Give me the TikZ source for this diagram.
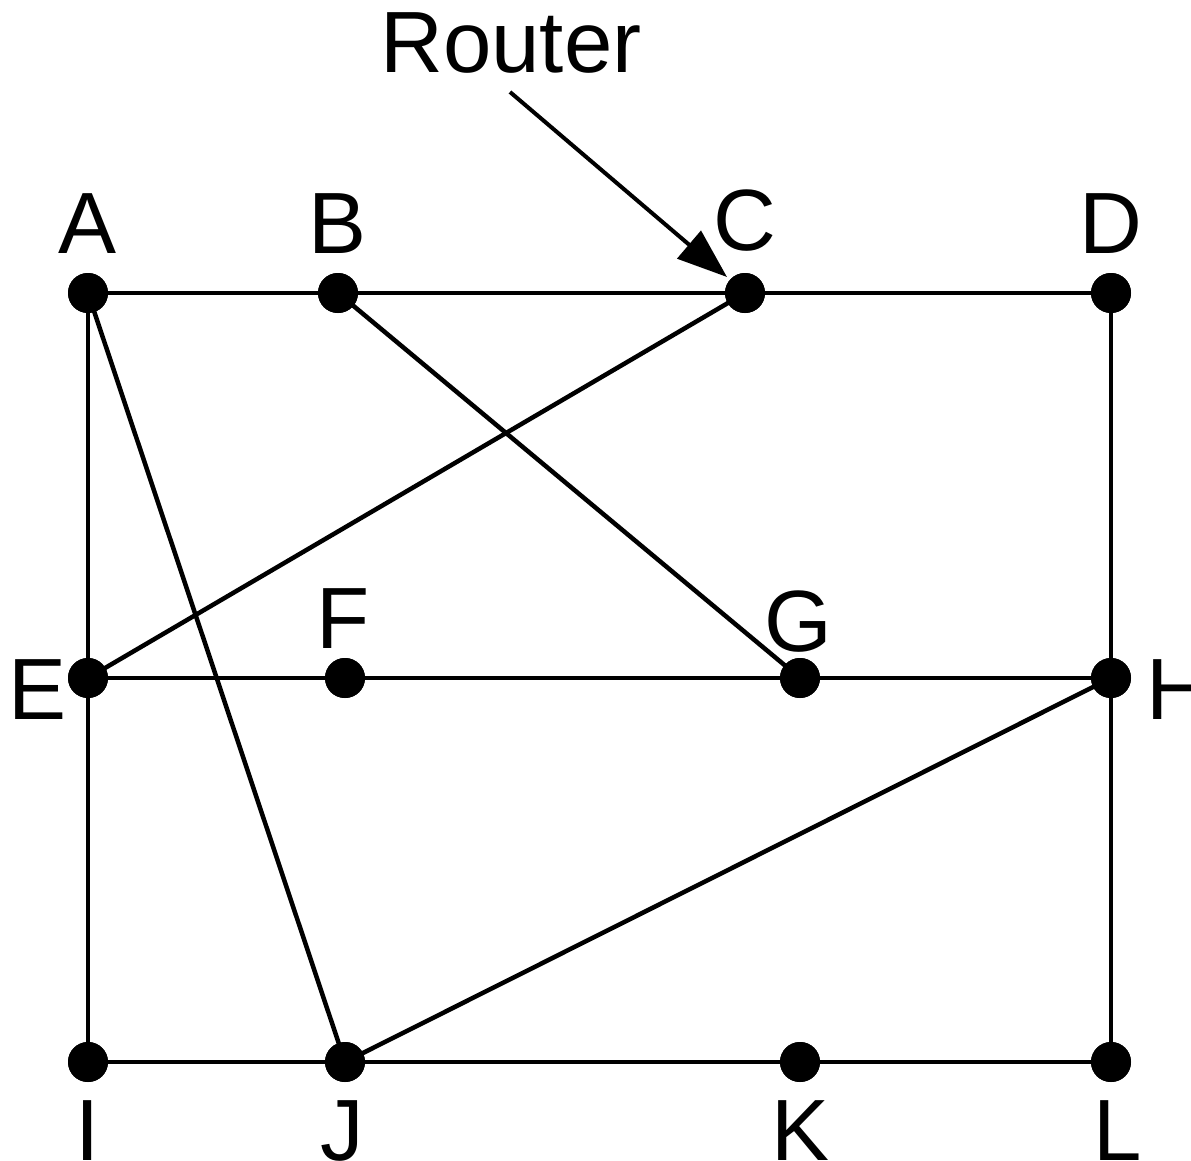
\documentclass[tikz,border=0pt]{standalone}
\usepackage{fontspec}
\setmainfont{Liberation Sans}
\usetikzlibrary{arrows.meta}
\begin{document}
\begin{tikzpicture}[x=1pt,y=-1pt,
  router/.style={circle,fill=black,inner sep=0pt,minimum size=40pt},
  lbl/.style={font=\fontsize{87}{87}\selectfont,inner sep=0pt,anchor=base},
  link/.style={line width=4.5pt}]
\useasboundingbox (0,0) rectangle (1191,1160);
\node[router] (A) at (88,293) {};
\node[router] (B) at (338,293) {};
\node[router] (C) at (745,293) {};
\node[router] (D) at (1111,293) {};
\node[router] (E) at (88,678) {};
\node[router] (F) at (345,678) {};
\node[router] (G) at (800,678) {};
\node[router] (H) at (1111,678) {};
\node[router] (I) at (88,1062) {};
\node[router] (J) at (345,1062) {};
\node[router] (K) at (800,1062) {};
\node[router] (L) at (1111,1062) {};
\begin{scope}[on background layer/.style={}]
\draw[link] (A.center) -- (B.center) -- (C.center) -- (D.center);
\draw[link] (A.center) -- (E.center) -- (I.center);
\draw[link] (E.center) -- (F.center) -- (G.center) -- (H.center);
\draw[link] (I.center) -- (J.center) -- (K.center) -- (L.center);
\draw[link] (D.center) -- (H.center) -- (L.center);
\draw[link] (A.center) -- (J.center);
\draw[link] (B.center) -- (G.center);
\draw[link] (C.center) -- (E.center);
\draw[link] (H.center) -- (J.center);
\end{scope}
\foreach \n in {A,B,C,D,E,F,G,H,I,J,K,L} {\fill (\n) circle (20pt);}
\node[lbl] (lA) at (88,253) {A};
\node[lbl] (lB) at (338,253) {B};
\node[lbl] (lC) at (745,250) {C};
\node[lbl] (lD) at (1111,253) {D};
\node[lbl] (lF) at (343,648) {F};
\node[lbl] (lG) at (798,651) {G};
\node[lbl] (lE) at (38,719) {E};
\node[lbl] (lH) at (1178,719) {H};
\node[lbl] (lI) at (88,1160) {I};
\node[lbl] (lJ) at (342,1160) {J};
\node[lbl] (lK) at (801,1160) {K};
\node[lbl] (lL) at (1118,1160) {L};
\node[lbl] (router) at (511,72) {Router};
\coordinate (rs) at (510,92);
\coordinate (re) at (727,277);
\draw[line width=4pt,-{Triangle[length=50pt,width=36pt]}] (rs) -- (re);
\end{tikzpicture}
\end{document}
